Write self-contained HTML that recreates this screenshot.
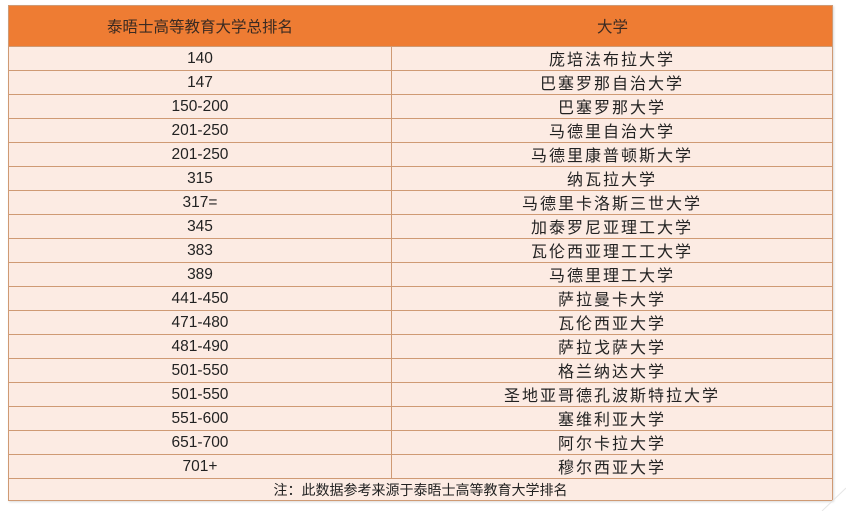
<!DOCTYPE html>
<html><head><meta charset="utf-8">
<style>
html,body{margin:0;padding:0;background:#fff;}
body{width:846px;height:511px;position:relative;overflow:hidden;font-family:"Liberation Sans","Noto Sans CJK SC",sans-serif;}
.t{position:absolute;left:8px;top:5px;width:825px;height:496px;background:#fcebe3;border:1px solid #cf9a74;box-sizing:border-box;box-shadow:1px 1px 2px rgba(0,0,0,0.15);}
.hd{position:absolute;left:0;top:0;width:100%;height:40px;background:#ee7c33;}
.hd div{position:absolute;top:0;height:40px;line-height:40px;text-align:center;color:#3a2a22;font-size:15.5px;font-family:"Noto Sans CJK SC",sans-serif;}
.row{position:absolute;left:0;width:100%;height:24px;border-top:1px solid #cf9a74;box-sizing:border-box;}
.c1{position:absolute;left:0;width:382px;top:0;height:23px;line-height:23px;text-align:center;font-size:15.5px;color:#222;font-family:"Liberation Sans",sans-serif;}
.c2{position:absolute;left:382px;right:0;top:0;height:23px;line-height:23px;text-align:center;font-size:16px;letter-spacing:2px;color:#222;border-left:1px solid #cf9a74;font-family:"Noto Sans CJK SC",sans-serif;font-weight:400;}
.note{position:absolute;left:0;width:100%;height:23px;line-height:23px;text-align:center;font-size:14px;color:#222;font-family:"Noto Sans CJK SC",sans-serif;}
</style></head><body>
<div class="t">
<div class="hd"><div style="left:0;width:382px;">泰晤士高等教育大学总排名</div><div style="left:382px;width:443px;">大学</div></div>
<div class="row" style="top:40px"><div class="c1">140</div><div class="c2">庞培法布拉大学</div></div>
<div class="row" style="top:64px"><div class="c1">147</div><div class="c2">巴塞罗那自治大学</div></div>
<div class="row" style="top:88px"><div class="c1">150-200</div><div class="c2">巴塞罗那大学</div></div>
<div class="row" style="top:112px"><div class="c1">201-250</div><div class="c2">马德里自治大学</div></div>
<div class="row" style="top:136px"><div class="c1">201-250</div><div class="c2">马德里康普顿斯大学</div></div>
<div class="row" style="top:160px"><div class="c1">315</div><div class="c2">纳瓦拉大学</div></div>
<div class="row" style="top:184px"><div class="c1">317=</div><div class="c2">马德里卡洛斯三世大学</div></div>
<div class="row" style="top:208px"><div class="c1">345</div><div class="c2">加泰罗尼亚理工大学</div></div>
<div class="row" style="top:232px"><div class="c1">383</div><div class="c2">瓦伦西亚理工工大学</div></div>
<div class="row" style="top:256px"><div class="c1">389</div><div class="c2">马德里理工大学</div></div>
<div class="row" style="top:280px"><div class="c1">441-450</div><div class="c2">萨拉曼卡大学</div></div>
<div class="row" style="top:304px"><div class="c1">471-480</div><div class="c2">瓦伦西亚大学</div></div>
<div class="row" style="top:328px"><div class="c1">481-490</div><div class="c2">萨拉戈萨大学</div></div>
<div class="row" style="top:352px"><div class="c1">501-550</div><div class="c2">格兰纳达大学</div></div>
<div class="row" style="top:376px"><div class="c1">501-550</div><div class="c2">圣地亚哥德孔波斯特拉大学</div></div>
<div class="row" style="top:400px"><div class="c1">551-600</div><div class="c2">塞维利亚大学</div></div>
<div class="row" style="top:424px"><div class="c1">651-700</div><div class="c2">阿尔卡拉大学</div></div>
<div class="row" style="top:448px"><div class="c1">701+</div><div class="c2">穆尔西亚大学</div></div>
<div class="row" style="top:472px"><div class="note">注：此数据参考来源于泰晤士高等教育大学排名</div></div>
</div>
<svg style="position:absolute;left:0;top:0" width="846" height="511"><line x1="822" y1="511" x2="846" y2="488" stroke="#e6e6e6" stroke-width="1"/></svg>
</body></html>
